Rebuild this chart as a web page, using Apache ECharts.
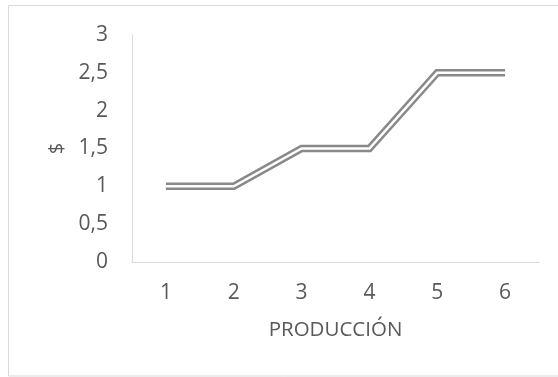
<!DOCTYPE html>
<html>
<head>
<meta charset="utf-8">
<script src="https://cdn.jsdelivr.net/npm/echarts@6/dist/echarts.min.js"></script>
<style>
  html, body { margin: 0; padding: 0; background: #ffffff; }
  #chart { width: 558px; height: 377px; }
</style>
</head>
<body>
<div id="chart"></div>
<script>
// Production levels (categories) and the cost in $ for each
const categories = ['1', '2', '3', '4', '5', '6'];
const costValues = [1, 1, 1.5, 1.5, 2.5, 2.5];
const yTicks = { min: 0, max: 3, interval: 0.5 };

const textColor = '#595959';
const axisColor = '#d9d9d9';
const lineColor = '#898989';
const fontFamily = '"Open Sans", "DejaVu Sans", sans-serif';

const chart = echarts.init(document.getElementById('chart'), null, { renderer: 'canvas' });

chart.setOption({
  animation: false,
  backgroundColor: '#ffffff',
  graphic: [{
    type: 'rect',
    shape: { x: 8.5, y: 5.5, width: 560, height: 370.5 },
    style: { fill: 'none', stroke: axisColor, lineWidth: 1 },
    silent: true
  }],
  grid: { left: 132, right: 19, top: 35, bottom: 115 },
  xAxis: {
    type: 'category',
    data: categories,
    boundaryGap: true,
    name: 'PRODUCCIÓN',
    nameLocation: 'middle',
    nameGap: 58,
    nameTextStyle: { color: textColor, fontSize: 20.5, fontFamily: fontFamily },
    axisLine: { show: true, lineStyle: { color: axisColor, width: 1 } },
    axisTick: { show: false },
    axisLabel: { color: textColor, fontSize: 21, fontFamily: fontFamily, margin: 21 },
    splitLine: { show: false }
  },
  yAxis: {
    type: 'value',
    min: yTicks.min,
    max: yTicks.max,
    interval: yTicks.interval,
    name: '$',
    nameLocation: 'middle',
    nameGap: 64,
    nameRotate: 90,
    nameTextStyle: { color: textColor, fontSize: 20, fontFamily: fontFamily },
    axisLine: { show: true, lineStyle: { color: axisColor, width: 1 } },
    axisTick: { show: false },
    axisLabel: {
      color: textColor, fontSize: 21, fontFamily: fontFamily, margin: 24,
      formatter: v => String(v).replace('.', ',')
    },
    splitLine: { show: false }
  },
  series: [
    {
      // outer gray stroke of the double line
      type: 'line',
      data: costValues,
      symbol: 'none',
      lineStyle: { color: lineColor, width: 7.5, cap: 'butt', join: 'miter' },
      silent: true,
      z: 2
    },
    {
      // white core that splits it into two parallel strokes
      type: 'line',
      data: costValues,
      symbol: 'none',
      lineStyle: { color: '#ffffff', width: 2.5, cap: 'butt', join: 'miter' },
      silent: true,
      z: 3
    }
  ]
});
</script>
</body>
</html>
